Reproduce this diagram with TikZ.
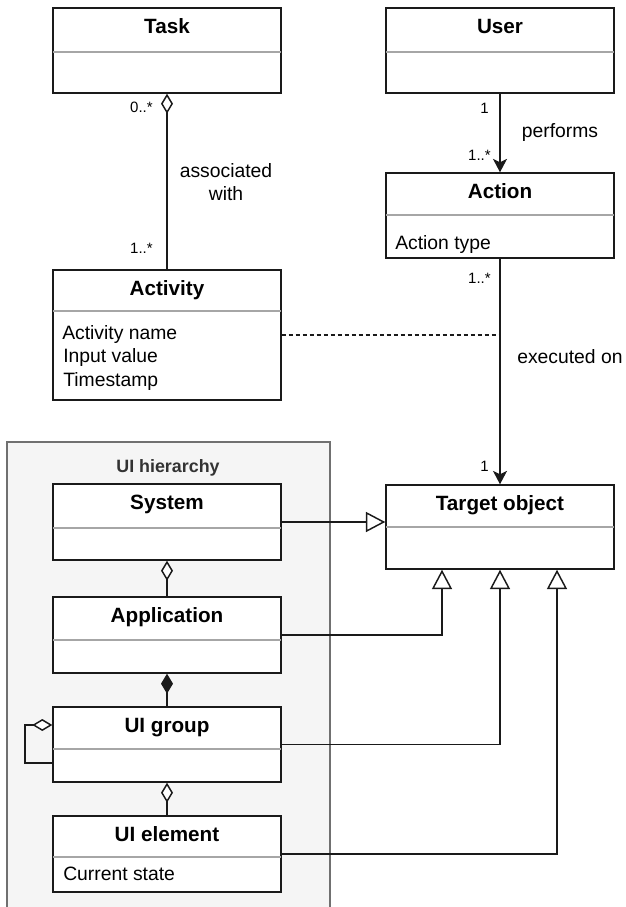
\documentclass[tikz,border=0pt]{standalone}
\usepackage{fontspec}
\setmainfont{Liberation Sans}
\usetikzlibrary{arrows.meta,fit,calc}
\definecolor{ink}{HTML}{1A1A1A}
\definecolor{divgray}{HTML}{A6A6A6}
\definecolor{contfill}{HTML}{F5F5F5}
\definecolor{contline}{HTML}{707070}
\definecolor{conttext}{HTML}{333333}
\newcommand\umlclass[7]{%
  \node[clsbox, fit={(#2,#3)(#4,#5)}] (#1) {};
  \draw[clsdiv] (#2,#6) -- (#4,#6);
  \node[clstitle, anchor=base] at ({(#2+#4)/2},{#3+25}) {#7};
}
\tikzset{
  clsbox/.style={draw=ink, fill=white, line width=1.1pt, inner sep=0pt},
  clsdiv/.style={draw=divgray, line width=1.3pt},
  clstitle/.style={font=\fontsize{15.5}{18}\selectfont\bfseries, inner sep=0pt, text=black},
  attr/.style={font=\fontsize{14.5}{17}\selectfont, anchor=base west, inner sep=0pt},
  lbl/.style={font=\fontsize{14.5}{17}\selectfont, inner sep=0pt},
  mult/.style={font=\fontsize{11.25}{13}\selectfont, anchor=base east, inner sep=0pt},
  conn/.style={draw=ink, line width=1.1pt},
  nav/.style={conn, -{Stealth[length=10pt, width=10.5pt, inset=2.5pt]}},
  gen/.style={conn, -{Triangle[fill=white, length=14.5pt, width=15pt]}},
  aggr/.style={conn, -{Diamond[fill=white, length=15pt, width=9pt]}},
  comp/.style={conn, -{Diamond[fill=ink, length=15pt, width=9pt]}},
  assocdash/.style={draw=ink, line width=1.1pt, dash pattern=on 3pt off 2.25pt},
  container/.style={draw=contline, fill=contfill, line width=0.8pt, inner sep=0pt},
}
\begin{document}
\begin{tikzpicture}[x=0.75pt, y=-0.75pt]
\useasboundingbox (0,0) rectangle (625,907);
% container
\node[container, fit={(7,442)(330,915)}] (uih) {};
\node[font=\fontsize{13.4}{16}\selectfont\bfseries, text=conttext, anchor=base, inner sep=0pt] (uihlabel) at (168,472) {UI hierarchy};
% classes
\umlclass{task}{53}{8}{281}{93}{52}{Task}
\umlclass{user}{386}{8}{614}{93}{52}{User}
\umlclass{action}{386}{173}{614}{258}{215}{Action}
\node[attr] (actiontype) at (395,249) {Action type};
\umlclass{activity}{53}{270}{281}{400}{311}{Activity}
\node[attr] (actname) at (62,339) {Activity name};
\node[attr] (inputval) at (63,362) {Input value};
\node[attr] (tstamp) at (63,386) {Timestamp};
\umlclass{target}{386}{485}{614}{569}{527}{Target object}
\umlclass{system}{53}{484}{281}{560}{528}{System}
\umlclass{application}{53}{597}{281}{673}{640}{Application}
\umlclass{uigroup}{53}{707}{281}{782}{749}{UI group}
\umlclass{uielement}{53}{816}{281}{892}{857}{UI element}
\node[attr] (curstate) at (63,880) {Current state};
% connectors
\draw[aggr] (activity.north) -- (task.south);
\node[mult] (m1) at (153,112) {0..*};
\node[mult] (m2) at (153,253) {1..*};
\node[lbl, align=center] (assocwith) at (226,182) {associated\\with};
\draw[nav] (user.south) -- (action.north);
\node[mult] (m3) at (489,113) {1};
\node[mult] (m4) at (491,160) {1..*};
\node[lbl, anchor=base] (performs) at (560,137) {performs};
\draw[nav] (action.south) -- (target.north);
\node[mult] (m5) at (491,283) {1..*};
\node[mult] (m6) at (489,471) {1};
\node[lbl, anchor=base west] (execon) at (517,363) {executed on};
\draw[assocdash] (activity.east) -- (activity.east -| action.south);
\draw[gen] (system.east) -- (system.east -| target.west);
\coordinate (g1) at ($(target.south)+(-58,0)$);
\coordinate (g3) at ($(target.south)+(57,0)$);
\draw[gen] (application.east) -| (g1);
\draw[gen] (uigroup.east) -| (target.south);
\draw[gen] (uielement.east) -| (g3);
\draw[aggr] (application.north) -- (system.south);
\draw[comp] (uigroup.north) -- (application.south);
\draw[aggr] (uielement.north) -- (uigroup.south);
\coordinate (lp1) at (25,725);
\coordinate (lp2) at (25,763);
\draw[aggr] (uigroup.west |- lp2) -- (lp2) -- (lp1) -- (uigroup.west |- lp1);
\end{tikzpicture}
\end{document}
